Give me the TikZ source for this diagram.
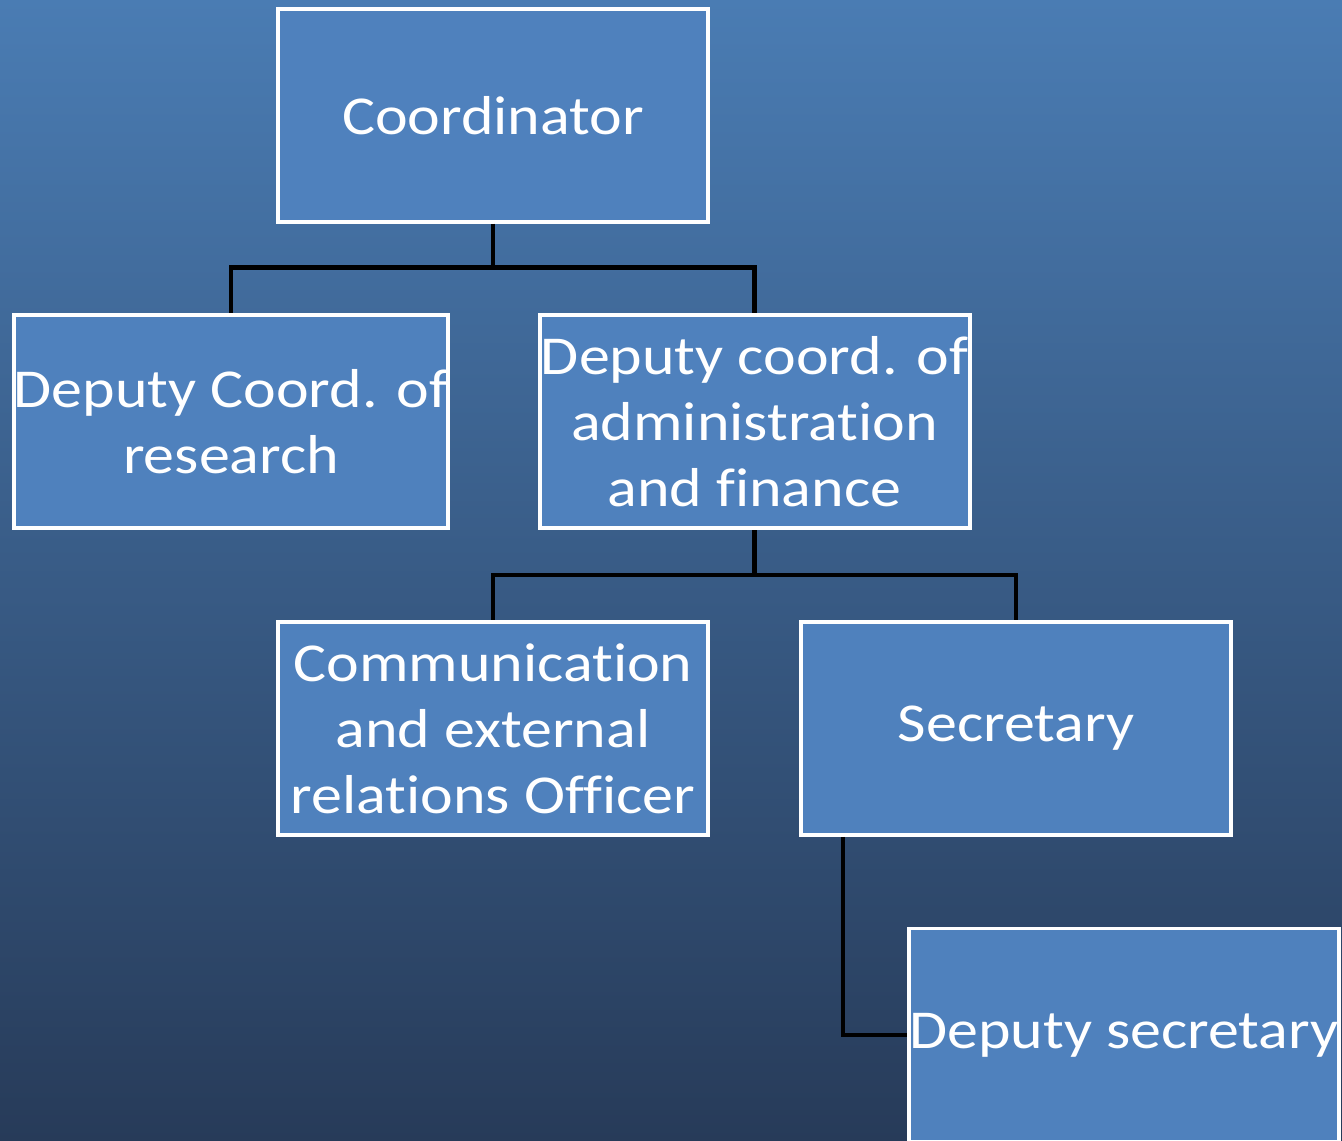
\documentclass[tikz,border=0pt]{standalone}
\usepackage{fontspec}
\setmainfont{Carlito}[FakeStretch=1.13, Ligatures=NoCommon]
\usepackage{tikz}
\usetikzlibrary{calc,shadings}
\definecolor{slidetop}{HTML}{4A7CB3}
\definecolor{slidebottom}{HTML}{273B59}
\definecolor{boxblue}{HTML}{4F81BD}
\tikzstyle{post} = [rectangle, draw=white, fill=boxblue, line width=0.04cm,
    text=white, align=center, minimum width=4.30cm, minimum height=2.13cm,
    inner sep=0pt, font=\fontsize{15.6}{18.8}\selectfont]
\tikzstyle{link} = [draw, black, line width=0.045cm]

\begin{document}
\begin{tikzpicture}[node distance=3.065cm]
    % Background
    \useasboundingbox (0,0) rectangle (13.42,-11.41);
    \clip (0,0) rectangle (13.42,-11.41);
    \shade[top color=slidetop, bottom color=slidebottom] (0,0) rectangle (13.42,-11.41);

    % Place nodes
    \node [post] (coordinator) at (4.93,-1.155) {Coordinator};
    \node [post, below of=coordinator, xshift=2.615cm] (admin) {Deputy coord. of\\administration\\and finance};
    \node [post, left of=admin, node distance=5.235cm] (research) {Deputy Coord. of\\research};
    \node [post, below of=admin, xshift=-2.615cm] (comm) {Communication\\and external\\relations Officer};
    \node [post, right of=comm, node distance=5.23cm] (secretary) {Secretary};
    \node [post, below of=secretary, xshift=1.08cm] (depsec) {Deputy secretary};

    % Draw edges
    \path [link] (coordinator) -- ++(0,-1.52) -| (research);
    \path [link] (coordinator) -- ++(0,-1.52) -| (admin);
    \path [link] (admin) -- ++(0,-1.53) -| (comm);
    \path [link] (admin) -- ++(0,-1.53) -| (secretary);
    \path [link] ([xshift=0.44cm]secretary.south west) |- (depsec);
\end{tikzpicture}
\end{document}
